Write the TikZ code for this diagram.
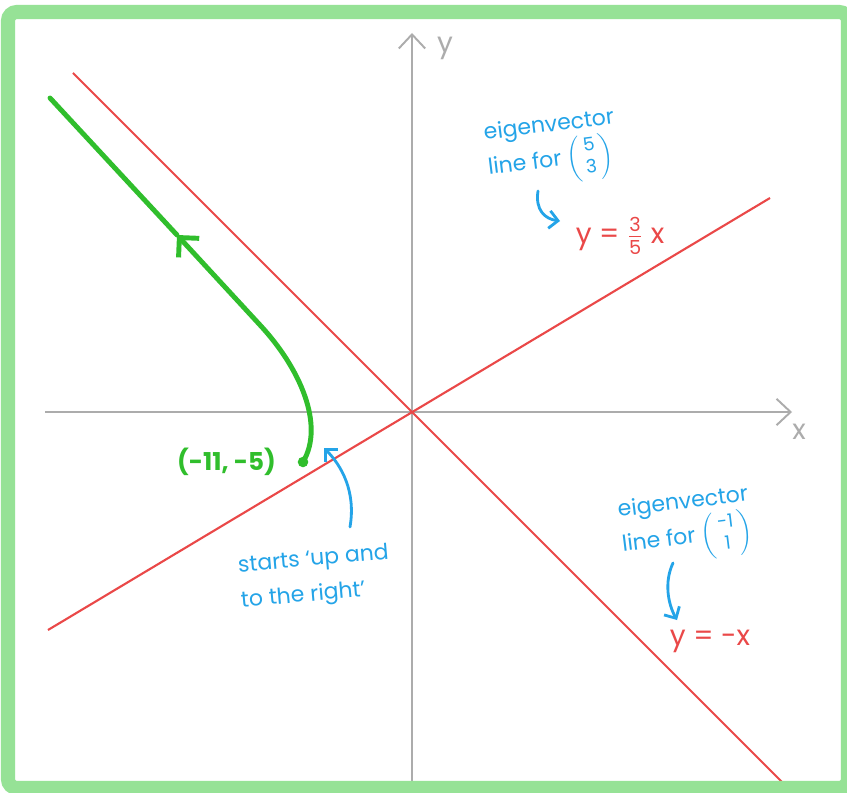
\documentclass[tikz,border=0pt]{standalone}
\usepackage{amsmath}
\usepackage{fontspec}
\setmainfont{Poppins}
\usetikzlibrary{arrows.meta,positioning}
\definecolor{framegreen}{RGB}{150,226,150}
\definecolor{curvegreen}{RGB}{48,190,44}
\definecolor{linered}{RGB}{234,72,72}
\definecolor{noteblue}{RGB}{36,164,232}
\definecolor{axisgray}{RGB}{172,172,172}
\newcommand{\eigvec}[2]{{\fontsize{10.5}{12.5}\selectfont$\left(\begin{array}{@{\,}c@{\,}}\text{#1}\\\text{#2}\end{array}\right)$}}
\newcommand{\slopefrac}[2]{$\frac{\text{\fontsize{11}{11}\selectfont #1}}{\text{\fontsize{11}{11}\selectfont #2}}$}

\begin{document}
\begin{tikzpicture}[x=0.02cm,y=-0.02cm,
    axis/.style={axisgray,line width=1.1pt,-{Straight Barb[length=8pt,width=15pt]}},
    eigline/.style={linered,line width=1.2pt},
    trajectory/.style={curvegreen,line width=2.8pt,line cap=round,line join=round},
    note/.style={noteblue,align=left,inner sep=0pt,font=\fontsize{12.5}{20}\selectfont},
    notearrow/.style={noteblue,line width=1.6pt,line cap=round,-{Straight Barb[length=5pt,width=10pt]}},
    eqn/.style={linered,inner sep=0pt,font=\fontsize{16}{18}\selectfont},
    axlabel/.style={axisgray,inner sep=0pt,font=\fontsize{16}{18}\selectfont},
    ptlabel/.style={curvegreen,inner sep=0pt,font=\bfseries\fontsize{14}{16}\selectfont}]
    \useasboundingbox (0,0) rectangle (847,793);
    \fill[white] (0,0) rectangle (847,793);
    \coordinate (xl) at (45,412);
    \coordinate (xr) at (792,412);
    \coordinate (yb) at (412,784);
    \coordinate (yt) at (412,33);
    \draw[axis] (xl) -- (xr);
    \draw[axis] (yb) -- (yt);
    \node[axlabel] (xlbl) at (799,432) {x};
    \node[axlabel] (ylbl) at (445,48) {y};
    \draw[eigline] (48,630) -- (770,198);
    \draw[eigline] (73,73) -- (792,792);
    \node[circle,fill=curvegreen,inner sep=0pt,minimum size=6pt] (dot) at (303,462) {};
    \node[ptlabel,left=12pt of dot] (ptlbl) {(-11, -5)};
    \coordinate (bend) at (260,325);
    \coordinate (mid) at (177,235);
    \coordinate (tail) at (50,98);
    \draw[trajectory,-{Straight Barb[length=8pt,width=16pt]}] (dot.center) .. controls (325,425) and (300,368) .. (bend) -- (mid);
    \draw[trajectory] (mid) -- (tail);
    \node[note,rotate=7] (eigA) at (552,150) {eigenvector\\line for \eigvec{5}{3}};
    \node[eqn] (eqA) at (620,236) {y = \slopefrac{3}{5} x};
    \node[note,rotate=7] (eigB) at (686,527) {eigenvector\\line for \eigvec{-1}{1}};
    \node[eqn] (eqB) at (710,641) {y = -x};
    \node[note,rotate=5] (startlbl) at (315,578) {starts `up and\\to the right'};
    \coordinate (a1s) at (538,191);
    \coordinate (a1e) at (560,221);
    \coordinate (a2s) at (673,563);
    \coordinate (a2e) at (677,620);
    \coordinate (a3s) at (350,527);
    \coordinate (a3e) at (324,448);
    \draw[notearrow] (a1s) .. controls (535,210) and (545,219) .. (a1e);
    \draw[notearrow] (a2s) .. controls (664,582) and (668,604) .. (a2e);
    \draw[notearrow] (a3s) .. controls (356,492) and (342,466) .. (a3e);
    \draw[framegreen,line width=8pt,rounded corners=5pt] (8,12) rectangle (848,788);
\end{tikzpicture}
\end{document}
